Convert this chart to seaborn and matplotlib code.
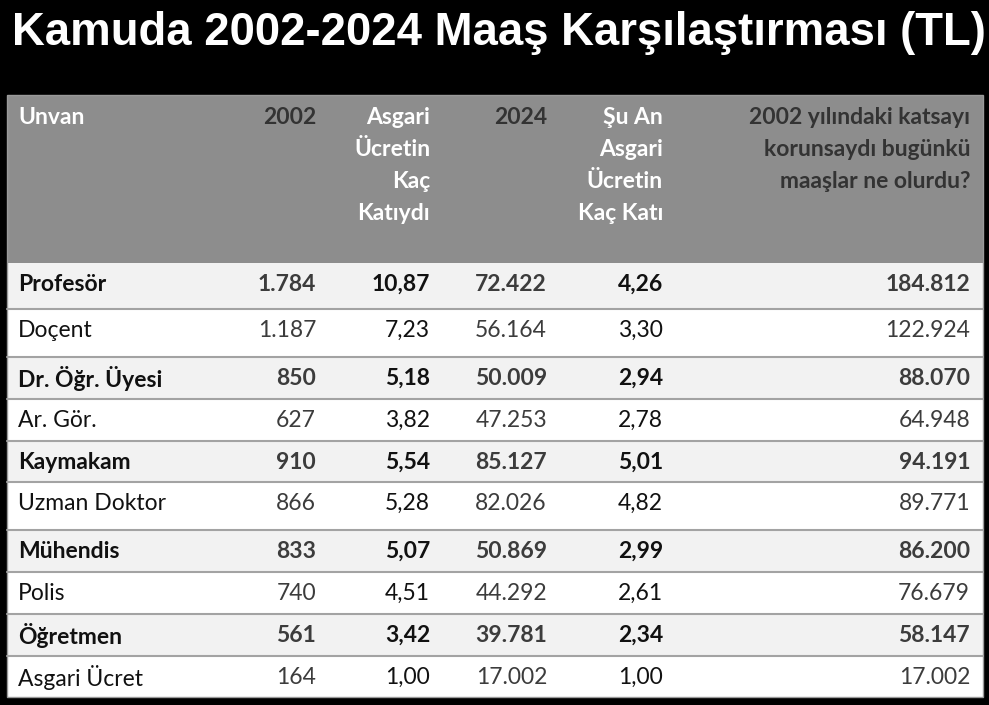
import matplotlib
matplotlib.use("Agg")
import matplotlib.pyplot as plt
import seaborn as sns
from matplotlib.patches import Rectangle

# ---- data ----
title = "Kamuda 2002-2024 Maaş Karşılaştırması (TL)"
headers = ["Unvan", "2002", "Asgari\nÜcretin\nKaç\nKatıydı", "2024",
           "Şu An\nAsgari\nÜcretin\nKaç Katı",
           "2002 yılındaki katsayı\nkorunsaydı bugünkü\nmaaşlar ne olurdu?"]
unvan = ["Profesör", "Doçent", "Dr. Öğr. Üyesi", "Ar. Gör.", "Kaymakam",
         "Uzman Doktor", "Mühendis", "Polis", "Öğretmen", "Asgari Ücret"]
maas_2002 = [1784, 1187, 850, 627, 910, 866, 833, 740, 561, 164]
kat_2002 = [10.87, 7.23, 5.18, 3.82, 5.54, 5.28, 5.07, 4.51, 3.42, 1.00]
maas_2024 = [72422, 56164, 50009, 47253, 85127, 82026, 50869, 44292, 39781, 17002]
kat_2024 = [4.26, 3.30, 2.94, 2.78, 5.01, 4.82, 2.99, 2.61, 2.34, 1.00]
korunsa = [184812, 122924, 88070, 64948, 94191, 89771, 86200, 76679, 58147, 17002]
bold_rows = [True, False, True, False, True, False, True, False, True, False]


def fmt_int(v):
    return f"{v:,}".replace(",", ".")


def fmt_dec(v):
    return f"{v:.2f}".replace(".", ",")


# ---- style ----
sns.set_theme(style="white")
plt.rcParams["font.family"] = ["Lato", "DejaVu Sans"]

W, H = 989, 705
fig = plt.figure(figsize=(W / 100, H / 100), dpi=100, facecolor="black")
ax = fig.add_axes([0, 0, 1, 1])
ax.set_xlim(0, W)
ax.set_ylim(H, 0)
ax.axis("off")
ax.set_facecolor("black")

# layout
left, right = 7, 983
top, head_bot = 95, 263
row_edges = [263, 309, 357, 399, 441, 482, 530, 572, 614, 656, 697]
col_right = [None, 316, 430, 547, 663, 970]
name_x = 18
HEAD_BG = "#8d8d8d"
BAND = "#f2f2f2"
LINE = "#a3a3a3"
DARK = "#3c3c3c"
BLACK = "#111111"
fs = 16.5

# title
ax.text(12, 33, title, color="white", fontsize=32.8, fontweight="bold",
        family=["Liberation Sans", "DejaVu Sans"],
        va="center", ha="left")

# header
ax.add_patch(Rectangle((left, top), right - left, head_bot - top,
                       facecolor=HEAD_BG, edgecolor="none"))
head_colors = ["white", "#333333", "white", "#333333", "white", "#333333"]
line_h = 32
for j, htxt in enumerate(headers):
    for k, ln in enumerate(htxt.split("\n")):
        y = 117 + k * line_h
        if j == 0:
            ax.text(name_x, y, ln, color=head_colors[j], fontsize=fs,
                    fontweight="bold", ha="left", va="center")
        else:
            ax.text(col_right[j], y, ln, color=head_colors[j], fontsize=fs,
                    fontweight="bold", ha="right", va="center")

# body
for i in range(len(unvan)):
    y0, y1 = row_edges[i], row_edges[i + 1]
    bg = BAND if bold_rows[i] else "white"
    ax.add_patch(Rectangle((left, y0), right - left, y1 - y0,
                           facecolor=bg, edgecolor="none"))
    if i > 0:
        ax.plot([left, right], [y0, y0], color=LINE, lw=1.5)
    yc = y0 + 21.5
    w = "bold" if bold_rows[i] else "normal"
    vals = [fmt_int(maas_2002[i]), fmt_dec(kat_2002[i]), fmt_int(maas_2024[i]),
            fmt_dec(kat_2024[i]), fmt_int(korunsa[i])]
    colors = [DARK, BLACK, DARK, BLACK, DARK]
    ax.text(name_x, yc, unvan[i], color=BLACK, fontsize=fs, fontweight=w,
            ha="left", va="center")
    for j, v in enumerate(vals):
        ax.text(col_right[j + 1], yc, v, color=colors[j], fontsize=fs,
                fontweight=w, ha="right", va="center")

# outline
ax.add_patch(Rectangle((left, top), right - left, row_edges[-1] - top,
                       facecolor="none", edgecolor="#9a9a9a", lw=1))

fig.savefig("out.png", dpi=100, facecolor="black")
